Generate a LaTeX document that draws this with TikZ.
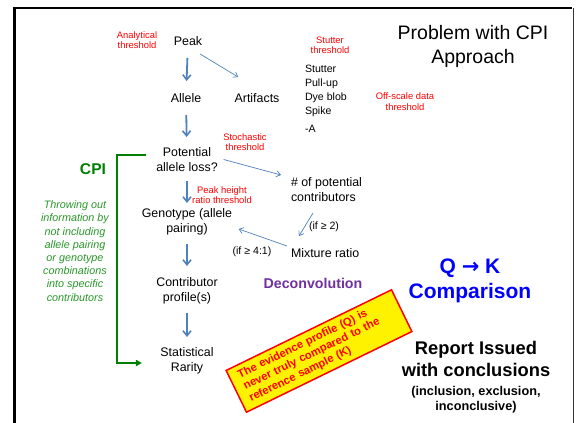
\documentclass[tikz,border=0pt]{standalone}
\usepackage{fontspec}
\setmainfont{Liberation Sans}
\newfontfamily\dejavu{DejaVu Sans}
\usetikzlibrary{calc,arrows.meta}
\definecolor{arrblue}{RGB}{79,129,189}
\definecolor{grn}{RGB}{0,128,0}
\definecolor{grnit}{RGB}{40,150,40}
\definecolor{purp}{RGB}{112,48,160}
\definecolor{redt}{RGB}{255,0,0}
\definecolor{qblue}{RGB}{0,0,255}
\tikzset{
  every node/.style={inner sep=0pt, outer sep=0pt},
  main/.style={font=\fontsize{12.4}{15}\selectfont, align=center},
  redlbl/.style={font=\fontsize{9.4}{10.5}\selectfont, align=center, text=redt},
  small/.style={font=\fontsize{10.6}{13.7}\selectfont},
  thk/.style={draw=arrblue, line width=1.8pt, -{Straight Barb[length=5pt,width=8pt,line width=1.6pt]}},
  thn/.style={draw=arrblue, line width=0.7pt, -{Straight Barb[length=4pt,width=6pt,line width=0.7pt]}},
}
\begin{document}
\begin{tikzpicture}[x=1pt,y=-1pt]
\useasboundingbox (0,0) rectangle (576,423);
% frame
\draw[line width=2.7pt] (13.5,8) -- (572,8);
\draw[line width=2.7pt] (14.7,6.7) -- (14.7,423);
\draw[line width=1.3pt, black!80] (573.5,8) -- (573.5,423);

% title
\node[font=\fontsize{19.5}{24}\selectfont, align=center] (title) at (473,46) {Problem with CPI\\Approach};

% main flow
\node[main] (peak) at (188,41) {Peak};
\node[redlbl] (anth) at (137,40) {Analytical\\threshold};
\node[main] (allele) at (186,98) {Allele};
\node[main] (artifacts) at (257,98) {Artifacts};
\node[redlbl] (stutth) at (330,45.5) {Stutter\\threshold};
\node[small, align=left, anchor=north west] (stlist) at (305,65.5) {Stutter\\Pull-up\\Dye blob\\Spike\\[5pt]-A};
\node[redlbl] (offscale) at (405,101.5) {Off-scale data\\threshold};
\node[redlbl] (stoch) at (245,142) {Stochastic\\threshold};
\node[main] (potential) at (187,159.5) {Potential\\allele loss?};
\node[main, align=left, anchor=west] (ncontrib) at (291,189.5) {\# of potential\\contributors};
\node[redlbl] (pht) at (222,195) {Peak height\\ratio threshold};
\node[main] (genotype) at (187,222) {Genotype (allele\\pairing)};
\node[small, anchor=west] (if2) at (309,227) {(if ≥ 2)};
\node[main, anchor=west] (mixture) at (291,253) {Mixture ratio};
\node[small] (if41) at (252,252) {(if ≥ 4:1)};
\node[main] (contributor) at (187,290.5) {Contributor\\profile(s)};
\node[main] (stat) at (187,361) {Statistical\\Rarity};

\node[font=\fontsize{14.2}{17}\selectfont\bfseries, text=purp] (deconv) at (313,283) {Deconvolution};
\node[font=\fontsize{21}{25}\selectfont\bfseries, text=qblue] (qk) at (470,268) {Q {\dejavu\bfseries →} K};
\node[font=\fontsize{21}{25}\selectfont\bfseries, text=qblue] (comparison) at (470,293) {Comparison};

\node[font=\fontsize{15.6}{18}\selectfont\bfseries, text=grn] (cpi) at (93,169) {CPI};
\node[font=\fontsize{10.8}{13.2}\selectfont\itshape, text=grnit, align=center] (throw) at (75,251)
  {Throwing out\\information by\\not including\\allele pairing\\or genotype\\combinations\\into specific\\contributors};

\node[font=\fontsize{18.3}{22}\selectfont\bfseries, align=center] (report) at (476,359) {Report Issued\\with conclusions};
\node[font=\fontsize{12.7}{15}\selectfont\bfseries, align=center] (incl) at (476,399.5) {(inclusion, exclusion,\\inconclusive)};

\node[rotate=26, draw=redt, fill=yellow, line width=1.5pt, text=redt,
      font=\fontsize{11.2}{13}\selectfont\bfseries, align=left, text width=166pt,
      inner xsep=9pt, inner ysep=5pt] (note) at (319,351)
  {The evidence profile (Q) is\\never truly compared to the\\reference sample (K)};

% arrows
\draw[thk, shorten <=17pt, shorten >=17pt] (peak.center) -- (allele.center);
\draw[thk, shorten <=17pt, shorten >=22.5pt] (allele.center) -- (potential.center);
\draw[thk, shorten <=21.5pt, shorten >=19pt] (potential.center) -- (genotype.center);
\draw[thk, shorten <=22pt, shorten >=24.5pt] (genotype.center) -- (contributor.center);
\draw[thk, line width=1.4pt, shorten <=22.5pt, shorten >=24pt] (contributor.center) -- (stat.center);

\draw[thn] ($(peak.east)+(-2,13)$) -- ($(artifacts.west)+(3.5,-21)$);
\draw[thn] ($(potential.east)+(6,0)$) -- ($(ncontrib.west)+(-10,-14.5)$);
\draw[thn] ($(ncontrib.west)+(22,23.5)$) -- ($(mixture.west)+(8,-17)$);
\draw[thn] ($(mixture.west)+(-4,-7)$) -- ($(genotype.east)+(6.5,7)$);

% CPI bracket
\draw[draw=grn, line width=1.8pt, -{Triangle[length=6pt,width=6pt]}]
  ($(potential.west)+(-10.5,-4.5)$) -| ($(stat.west)+(-43.5,2)$) -- ($(stat.west)+(-18.5,2)$);
\end{tikzpicture}
\end{document}
